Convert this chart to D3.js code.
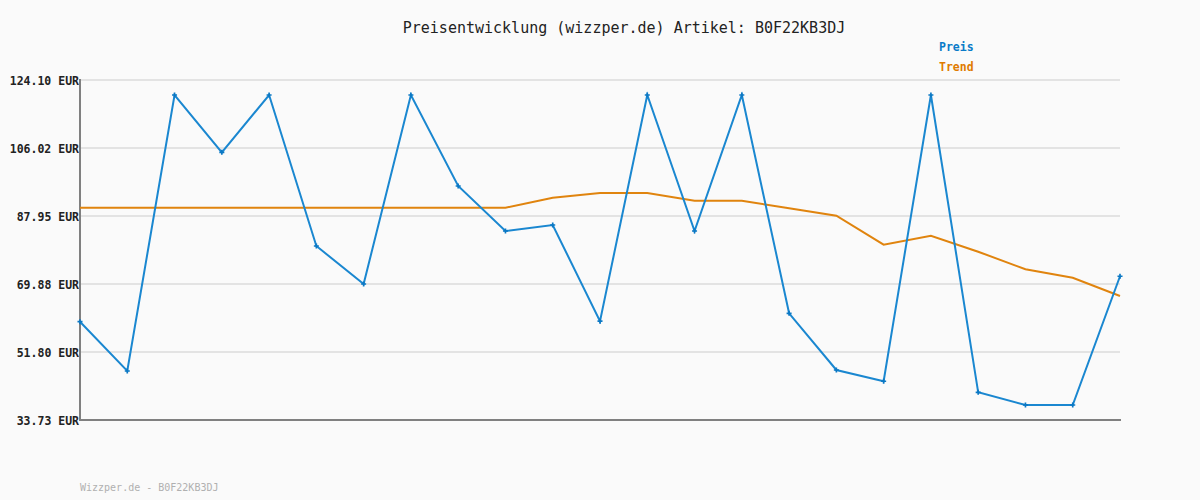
<!DOCTYPE html>
<html>
<head>
<meta charset="utf-8">
<script src="https://cdn.jsdelivr.net/npm/d3@7"></script>
<style>
html,body{margin:0;padding:0;background:#fafafa;}
svg{display:block;}
</style>
</head>
<body>
<svg id="chart" width="1200" height="500"></svg>
<script>
const titleText = "Preisentwicklung (wizzper.de) Artikel: B0F22KB3DJ";
const footerText = "Wizzper.de - B0F22KB3DJ";
const seriesNames = ["Preis", "Trend"];
const yTicks = [33.73, 51.80, 69.88, 87.95, 106.02, 124.10];
const preis = [59.86, 46.76, 120.11, 104.88, 120.11, 79.98, 69.88, 120.11, 95.93, 83.97, 85.56, 59.99,
               120.11, 83.97, 120.11, 62.09, 47.02, 44.02, 120.11, 41.09, 37.72, 37.72, 71.93];
const trend = [90.16, 90.16, 90.16, 90.16, 90.16, 90.16, 90.16, 90.16, 90.16, 90.16, 92.82, 94.07,
               94.07, 92.02, 92.02, 89.99, 88.03, 80.32, 82.72, 78.46, 73.79, 71.55, 66.69];
const idx = d3.range(preis.length);

const svg = d3.select("#chart");
const mono = "'DejaVu Sans Mono', 'Liberation Mono', monospace";
const blue = "#1a87d0", orange = "#e0840e";

svg.append("rect").attr("width", 1200).attr("height", 500).attr("fill", "#fafafa");

const x = d3.scaleLinear().domain([0, preis.length - 1]).range([80, 1120]);
const y = d3.scaleLinear().domain([yTicks[0], yTicks[yTicks.length - 1]]).range([420, 80]);

// gridlines
svg.append("g").selectAll("line").data(yTicks).join("line")
  .attr("x1", 80).attr("x2", 1120)
  .attr("y1", d => y(d)).attr("y2", d => y(d))
  .attr("stroke", "#e3e3e3").attr("stroke-width", 2);

// y axis labels
const yAxis = d3.axisLeft(y).tickValues(yTicks).tickSize(0).tickPadding(1)
  .tickFormat(d => d.toFixed(2) + " EUR");
const ga = svg.append("g").attr("transform", "translate(80,0)").call(yAxis);
ga.select(".domain").remove();
ga.selectAll("text").attr("font-family", mono).attr("font-size", 11.5).attr("font-weight", "bold")
  .attr("fill", "#222").attr("dy", "0.35em");

// axes lines
svg.append("line").attr("x1", 80).attr("x2", 80).attr("y1", 79).attr("y2", 421)
  .attr("stroke", "#808080").attr("stroke-width", 2);
svg.append("line").attr("x1", 79).attr("x2", 1121).attr("y1", 420).attr("y2", 420)
  .attr("stroke", "#808080").attr("stroke-width", 2);

const line = d3.line().x((d, i) => x(i)).y(d => y(d));

svg.append("path").datum(trend).attr("d", line).attr("fill", "none")
  .attr("stroke", orange).attr("stroke-width", 2);
svg.append("path").datum(preis).attr("d", line).attr("fill", "none")
  .attr("stroke", blue).attr("stroke-width", 2);

svg.append("g").selectAll("path").data(preis).join("path")
  .attr("transform", (d, i) => `translate(${x(i)},${y(d)})`)
  .attr("d", d3.symbol(d3.symbolCross, 14))
  .attr("fill", "#0b78c4");

// title
svg.append("text").attr("x", 624).attr("y", 33).attr("text-anchor", "middle")
  .attr("font-family", mono).attr("font-size", 15).attr("fill", "#222").text(titleText);

// legend
svg.append("text").attr("x", 939).attr("y", 51).attr("font-family", mono).attr("font-size", 11.5)
  .attr("font-weight", "bold").attr("fill", "#0a7bc8").text(seriesNames[0]);
svg.append("text").attr("x", 939).attr("y", 71).attr("font-family", mono).attr("font-size", 11.5)
  .attr("font-weight", "bold").attr("fill", "#e07b00").text(seriesNames[1]);

// footer
svg.append("text").attr("x", 80).attr("y", 491).attr("font-family", mono).attr("font-size", 10)
  .attr("fill", "#b0b0b0").text(footerText);
</script>
</body>
</html>
